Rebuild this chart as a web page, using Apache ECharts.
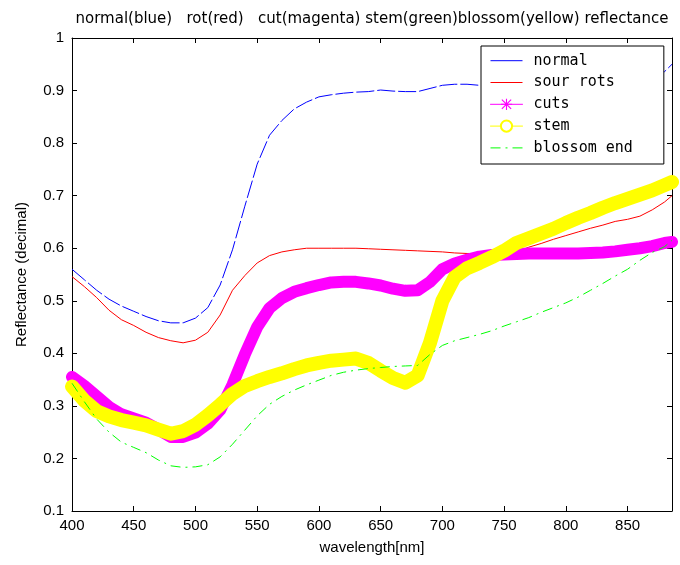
<!DOCTYPE html>
<html><head><meta charset="utf-8">
<script src="https://cdn.jsdelivr.net/npm/echarts@6/dist/echarts.min.js"></script>
<style>html,body{margin:0;padding:0;background:#fff}#c{width:680px;height:565px}</style>
</head><body><div id="c"></div>
<script>
// wavelength [nm]
const wavelengths = [400,410,420,430,440,450,460,470,480,490,500,510,520,530,540,550,560,570,580,590,600,610,620,630,640,650,660,670,680,690,700,710,720,730,740,750,760,770,780,790,800,810,820,830,840,850,860,870,880,886];
const normal = [.560,.540,.520,.503,.490,.480,.470,.462,.458,.458,.467,.487,.530,.597,.680,.760,.815,.843,.865,.878,.888,.892,.895,.897,.898,.901,.899,.898,.898,.904,.910,.912,.912,.910,.912,.914,.916,.918,.920,.921,.922,.924,.925,.926,.928,.930,.932,.934,.936,.950];
const sourRots = [.546,.527,.506,.482,.464,.453,.440,.430,.424,.420,.425,.440,.473,.520,.548,.572,.586,.593,.597,.600,.600,.600,.600,.600,.599,.598,.597,.596,.595,.594,.593,.591,.590,.590,.589,.588,.593,.602,.609,.617,.624,.631,.638,.644,.651,.655,.661,.673,.688,.700];
const cuts = [.355,.338,.318,.298,.284,.276,.268,.255,.241,.241,.249,.266,.292,.340,.398,.450,.486,.505,.517,.524,.530,.535,.536,.536,.533,.529,.523,.519,.520,.536,.560,.571,.578,.584,.587,.588,.589,.590,.590,.590,.590,.590,.591,.592,.594,.597,.600,.604,.610,.612];
const stem = [.337,.310,.290,.280,.273,.268,.263,.255,.247,.252,.264,.282,.302,.323,.338,.347,.355,.362,.370,.377,.382,.386,.388,.390,.382,.367,.353,.344,.358,.420,.500,.545,.562,.572,.583,.595,.610,.619,.628,.637,.648,.658,.667,.677,.686,.694,.702,.710,.720,.726];
const blossomEnd = [.343,.308,.275,.250,.231,.221,.211,.197,.186,.183,.184,.188,.203,.227,.254,.281,.303,.318,.330,.340,.349,.358,.364,.368,.371,.373,.375,.376,.377,.398,.415,.424,.430,.436,.443,.452,.460,.468,.478,.487,.496,.507,.520,.533,.547,.560,.577,.592,.603,.615];
const seriesNames = ['normal','sour rots','cuts','stem','blossom end'];
const titleText = 'normal(blue)   rot(red)   cut(magenta) stem(green)blossom(yellow) reflectance';

const pairs = vals => wavelengths.map((w, i) => [w, vals[i]]);
const FONT = 'Liberation Sans';
const star = 'path://M4.5 0H5.5V10H4.5Z M0 4.5H10V5.5H0Z M1.2 0.5L9.5 8.8L8.8 9.5L0.5 1.2Z M8.8 0.5L9.5 1.2L1.2 9.5L0.5 8.8Z';

const axisCommon = {
  axisLine: {show: true, onZero: false, lineStyle: {color: '#000', width: 1}},
  axisTick: {show: true, inside: true, length: 5, lineStyle: {color: '#000'}},
  splitLine: {show: false}
};

const chart = echarts.init(document.getElementById('c'), null, {renderer: 'canvas'});
chart.setOption({
  animation: false,
  backgroundColor: '#fff',
  title: {
    text: titleText, left: 372, top: 12, padding: 0, textAlign: 'center',
    textStyle: {fontFamily: 'DejaVu Sans', fontSize: 15, fontWeight: 'normal', color: '#000'}
  },
  grid: {left: 72, right: 8, top: 38, bottom: 54, containLabel: false},
  legend: {
    orient: 'vertical', left: 481, top: 46,
    padding: [7.2, 31, 8.6, 9],
    backgroundColor: '#fff', borderColor: '#000', borderWidth: 1,
    itemWidth: 32, itemHeight: 14, itemGap: 6.8,
    lineStyle: {width: 1},
    textStyle: {fontFamily: 'DejaVu Sans Mono', fontSize: 15, lineHeight: 15, color: '#000', padding: [0, 0, 0, 6]},
    data: [
      {name: seriesNames[0], itemStyle: {opacity: 0}, lineStyle: {type: 'solid'}},
      {name: seriesNames[1], itemStyle: {opacity: 0}},
      {name: seriesNames[2]},
      {name: seriesNames[3]},
      {name: seriesNames[4], itemStyle: {opacity: 0}}
    ]
  },
  xAxis: [
    Object.assign({}, axisCommon, {
      type: 'value', position: 'bottom', min: 400, max: 886, interval: 50,
      name: 'wavelength[nm]', nameLocation: 'middle', nameGap: 29,
      nameTextStyle: {fontFamily: FONT, fontSize: 15, color: '#000'},
      axisLabel: {fontFamily: FONT, fontSize: 15, color: '#000', margin: 7, showMaxLabel: false}
    }),
    Object.assign({}, axisCommon, {
      type: 'value', position: 'top', min: 400, max: 886, interval: 50,
      axisLabel: {show: false}
    })
  ],
  yAxis: [
    Object.assign({}, axisCommon, {
      type: 'value', position: 'left', min: 0.1, max: 1, interval: 0.1,
      name: 'Reflectance (decimal)', nameLocation: 'middle', nameGap: 43,
      nameTextStyle: {fontFamily: FONT, fontSize: 15, color: '#000'},
      axisLabel: {fontFamily: FONT, fontSize: 15, color: '#000', margin: 8,
        formatter: v => String(+v.toFixed(1))}
    }),
    Object.assign({}, axisCommon, {
      type: 'value', position: 'right', min: 0.1, max: 1, interval: 0.1,
      axisLabel: {show: false}
    })
  ],
  series: [
    {name: seriesNames[0], type: 'line', data: pairs(normal), symbol: 'none', showSymbol: false,
      color: '#0000ff', lineStyle: {color: '#0000ff', width: 1, type: [18, 3]}},
    {name: seriesNames[1], type: 'line', data: pairs(sourRots), symbol: 'none', showSymbol: false,
      color: '#ff0000', lineStyle: {color: '#ff0000', width: 1}},
    {name: seriesNames[2], type: 'line', data: pairs(cuts), symbol: star, symbolSize: 10, showSymbol: false,
      color: '#ff00ff', itemStyle: {color: '#ff00ff'},
      lineStyle: {color: '#ff00ff', width: 12, cap: 'round', join: 'round'}},
    {name: seriesNames[3], type: 'line', data: pairs(stem), symbol: 'emptyCircle', symbolSize: 10, showSymbol: false,
      color: '#ffff00', itemStyle: {color: '#ffff00'},
      lineStyle: {color: '#ffff00', width: 14, cap: 'round', join: 'round'}},
    {name: seriesNames[4], type: 'line', data: pairs(blossomEnd), symbol: 'none', showSymbol: false,
      color: '#00ff00', lineStyle: {color: '#00ff00', width: 1, type: [10, 5, 2, 5]}}
  ]
});
</script>
</body></html>
